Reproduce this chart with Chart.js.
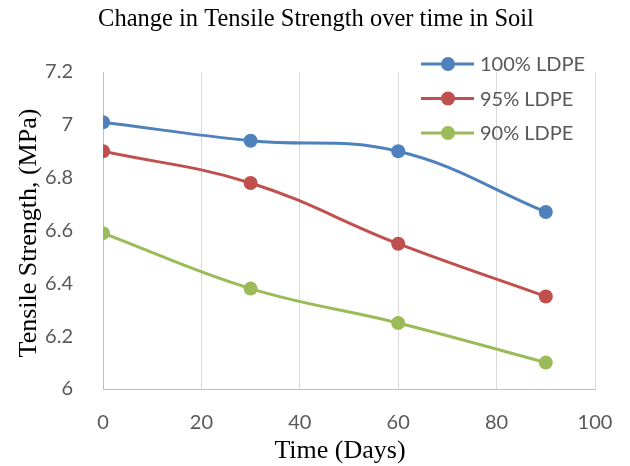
<!DOCTYPE html>
<html>
<head>
<meta charset="utf-8">
<script src="https://cdn.jsdelivr.net/npm/chart.js@4/dist/chart.umd.min.js"></script>
<style>
  html, body { margin: 0; padding: 0; background: #fff; }
  #wrap { width: 630px; height: 466px; }
</style>
</head>
<body>
<div id="wrap"><canvas id="c" width="630" height="466"></canvas></div>
<script>
// Days of exposure and tensile strength (MPa) for each blend
const days = [0, 30, 60, 90];
const ldpe100 = [7.01, 6.94, 6.90, 6.67];
const ldpe95 = [6.90, 6.78, 6.55, 6.35];
const ldpe90 = [6.59, 6.38, 6.25, 6.10];
const seriesNames = ['100% LDPE', '95% LDPE', '90% LDPE'];
const yTicks = [6, 6.2, 6.4, 6.6, 6.8, 7, 7.2];
const xTicks = [0, 20, 40, 60, 80, 100];

const colors = ['#4F81BD', '#C0504D', '#9BBB59'];
const toPoints = vals => vals.map((v, i) => ({ x: days[i], y: v }));

const sansFamily = 'Lato, "Open Sans", sans-serif';
const tickFont = { family: sansFamily, size: 20 };
const serif = '"Liberation Serif", "Times New Roman", serif';

// Title, axis titles and a legend placed inside the plot area, top-right
const annotations = {
  id: 'annotations',
  afterDraw(chart) {
    const ctx = chart.ctx;
    ctx.save();
    chart.data.datasets.forEach((ds, i) => {
      const y = 64 + i * 34.5;
      ctx.strokeStyle = ds.borderColor;
      ctx.lineWidth = 3;
      ctx.beginPath();
      ctx.moveTo(421, y);
      ctx.lineTo(474, y);
      ctx.stroke();
      ctx.fillStyle = ds.borderColor;
      ctx.beginPath();
      ctx.arc(448, y, 7, 0, Math.PI * 2);
      ctx.fill();
      ctx.fillStyle = '#595959';
      ctx.font = '20px ' + sansFamily;
      ctx.textBaseline = 'middle';
      ctx.textAlign = 'left';
      ctx.fillText(ds.label, 480, y + 1);
    });
    ctx.fillStyle = '#000';
    ctx.textAlign = 'center';
    ctx.textBaseline = 'middle';
    ctx.font = '24.5px ' + serif;
    ctx.fillText('Change in Tensile Strength over time in Soil', 316, 20);
    ctx.font = '26px ' + serif;
    ctx.fillText('Time (Days)', 340, 451);
    ctx.translate(29, 233);
    ctx.rotate(-Math.PI / 2);
    ctx.fillText('Tensile Strength, (MPa)', 0, 0);
    ctx.restore();
  }
};

new Chart(document.getElementById('c'), {
  type: 'line',
  data: {
    datasets: [ldpe100, ldpe95, ldpe90].map((vals, i) => ({
      label: seriesNames[i],
      data: toPoints(vals),
      borderColor: colors[i],
      backgroundColor: colors[i],
      borderWidth: 3,
      pointRadius: 7,
      pointHoverRadius: 7,
      pointBorderWidth: 0,
      tension: 0.4,
      fill: false
    }))
  },
  options: {
    responsive: false,
    animation: false,
    layout: { padding: { left: 0, right: 35, top: 72, bottom: 0 } },
    plugins: { legend: { display: false }, title: { display: false }, tooltip: { enabled: false } },
    scales: {
      x: {
        type: 'linear',
        min: 0, max: 100,
        afterBuildTicks: s => { s.ticks = xTicks.map(v => ({ value: v })); },
        afterFit: s => { s.height = 77; s.paddingLeft = 0; s.paddingRight = 0; },
        grid: { color: '#d9d9d9', lineWidth: 1, drawTicks: false },
        border: { color: '#bfbfbf', width: 1 },
        ticks: { color: '#595959', font: tickFont, padding: 22, maxRotation: 0 }
      },
      y: {
        min: 6, max: 7.2,
        afterBuildTicks: s => { s.ticks = yTicks.map(v => ({ value: v })); },
        afterFit: s => { s.width = 103; s.paddingTop = 0; s.paddingBottom = 0; },
        grid: { display: false },
        border: { color: '#bfbfbf', width: 1 },
        ticks: { color: '#595959', font: tickFont, padding: 22, callback: v => String(Math.round(v * 10) / 10) }
      }
    }
  },
  plugins: [annotations]
});
</script>
</body>
</html>
